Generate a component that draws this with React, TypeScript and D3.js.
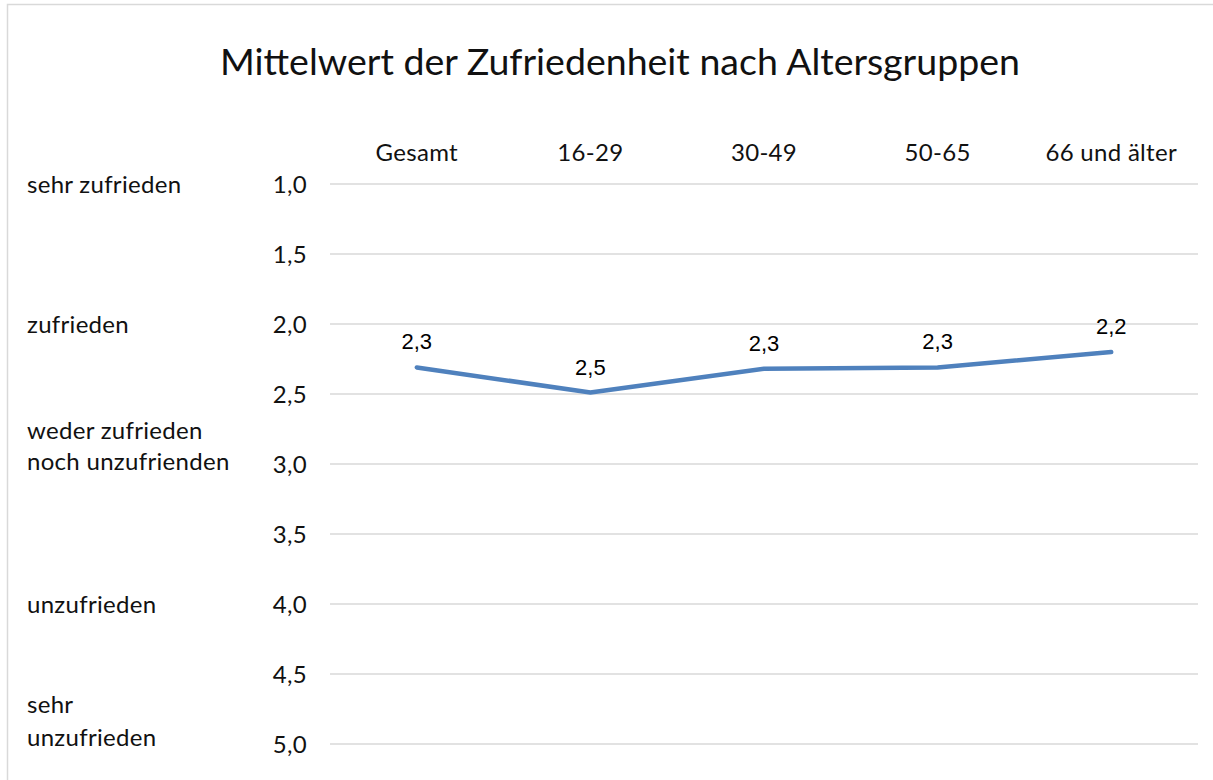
import React, { useEffect, useRef } from "react";
import * as d3 from "d3";

const groups = ["Gesamt", "16-29", "30-49", "50-65", "66 und älter"];
const means = [2.31, 2.49, 2.32, 2.31, 2.2];
const meanLabels = ["2,3", "2,5", "2,3", "2,3", "2,2"];
const ticks = [1, 1.5, 2, 2.5, 3, 3.5, 4, 4.5, 5];
// verbal scale labels on the far left, placed at a value on the axis
const scaleLabels = [
  { lines: ["sehr zufrieden"], at: 1, gap: 0 },
  { lines: ["zufrieden"], at: 2, gap: 0 },
  { lines: ["weder zufrieden", "noch unzufrienden"], at: 2.76, gap: 31 },
  { lines: ["unzufrieden"], at: 4, gap: 0 },
  { lines: ["sehr", "unzufrieden"], at: 4.72, gap: 33 },
];

const W = 1213;
const H = 780;

const App = () => {
  const svgRef = useRef<SVGSVGElement>(null);

  useEffect(() => {
    const svg = d3.select(svgRef.current);
    svg.selectAll("*").remove();

    const left = 330;
    const right = 1198;
    const top = 184;
    const bottom = 744;

    const x = d3.scaleBand().domain(groups).range([left, right]);
    const y = d3.scaleLinear().domain([1, 5]).range([top, bottom]);

    const lato = (sel: any) =>
      sel
        .attr("font-family", "Lato")
        .attr("font-size", 24)
        .attr("letter-spacing", 0.3)
        .attr("fill", "#111");

    // outer chart frame
    svg
      .append("rect")
      .attr("x", 7.5)
      .attr("y", 4.5)
      .attr("width", W + 20)
      .attr("height", H + 20)
      .attr("fill", "#fff")
      .attr("stroke", "#d9d9d9")
      .attr("stroke-width", 1.5);

    svg
      .append("text")
      .attr("x", 620)
      .attr("y", 75)
      .attr("text-anchor", "middle")
      .attr("font-family", "Lato")
      .attr("font-size", 37.5)
      .attr("fill", "#111")
      .text("Mittelwert der Zufriedenheit nach Altersgruppen");

    // gridlines
    svg
      .append("g")
      .selectAll("line")
      .data(ticks)
      .enter()
      .append("line")
      .attr("x1", left)
      .attr("x2", right)
      .attr("y1", (d) => y(d))
      .attr("y2", (d) => y(d))
      .attr("stroke", "#d9d9d9")
      .attr("stroke-width", 1.5);

    // tick labels
    svg
      .append("g")
      .selectAll("text")
      .data(ticks)
      .enter()
      .append("text")
      .attr("x", 307)
      .attr("y", (d) => y(d))
      .attr("dy", "0.36em")
      .attr("text-anchor", "end")
      .call(lato)
      .text((d) => d3.format(".1f")(d).replace(".", ","));

    // category labels across the top
    svg
      .append("g")
      .selectAll("text")
      .data(groups)
      .enter()
      .append("text")
      .attr("x", (d) => x(d)! + x.bandwidth() / 2)
      .attr("y", 161)
      .attr("text-anchor", "middle")
      .call(lato)
      .text((d) => d);

    // verbal scale
    const sl = svg.append("g");
    scaleLabels.forEach((s) => {
      s.lines.forEach((ln, i) => {
        sl.append("text")
          .attr("x", 27)
          .attr("y", y(s.at) + i * s.gap)
          .attr("dy", "0.36em")
          .call(lato)
          .text(ln);
      });
    });

    const pts = groups.map((g, i) => [x(g)! + x.bandwidth() / 2, y(means[i])] as [number, number]);

    svg
      .append("path")
      .attr("d", d3.line()(pts))
      .attr("fill", "none")
      .attr("stroke", "#4f81bd")
      .attr("stroke-width", 4.5)
      .attr("stroke-linecap", "round")
      .attr("stroke-linejoin", "round");

    svg
      .append("g")
      .selectAll("text")
      .data(pts)
      .enter()
      .append("text")
      .attr("x", (d) => d[0])
      .attr("y", (d) => d[1] - 18)
      .attr("text-anchor", "middle")
      .attr("font-family", "Liberation Sans, Arial")
      .attr("font-size", 22)
      .attr("fill", "#000")
      .text((d, i) => meanLabels[i]);
  }, []);

  return (
    <svg
      ref={svgRef}
      width={W}
      height={H}
      style={{ position: "absolute", left: 0, top: 0, background: "#fff" }}
    ></svg>
  );
};

export default App;
